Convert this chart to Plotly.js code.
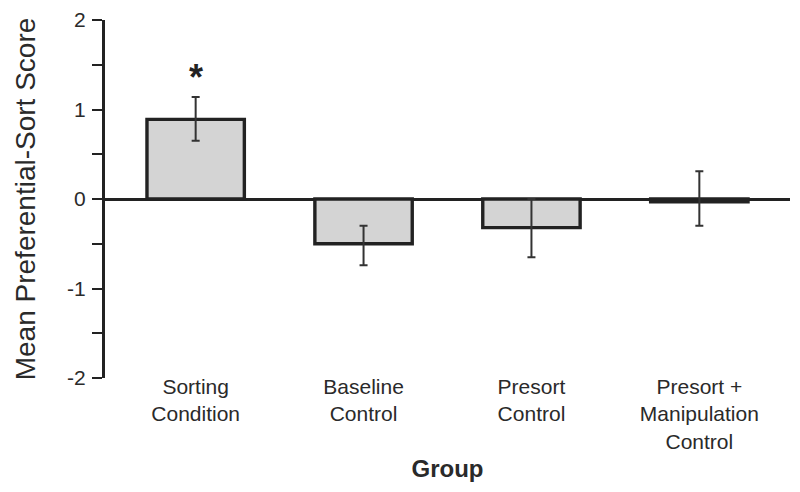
<!DOCTYPE html>
<html>
<head>
<meta charset="utf-8">
<script src="https://cdn.plot.ly/plotly-3.0.1.min.js"></script>
<style>
  body { margin: 0; background: #fff; }
  #plot { width: 800px; height: 492px; }
</style>
</head>
<body>
<div id="plot"></div>
<script>
var groups = ["Sorting<br>Condition", "Baseline<br>Control", "Presort<br>Control", "Presort +<br>Manipulation<br>Control"];
var meanScore = [0.89, -0.50, -0.32, -0.03];
var errUp = [0.25, 0.20, 0.32, 0.34];
var errDown = [0.24, 0.24, 0.33, 0.27];

var yTicks = [-2, -1.5, -1, -0.5, 0, 0.5, 1, 1.5, 2];
var yTickText = ["-2", "", "-1", "", "0", "", "1", "", "2"];

var ink = "#222";

var trace = {
  x: groups,
  y: meanScore,
  type: "bar",
  marker: { color: "#d4d4d4", line: { color: ink, width: 3.4 } },
  error_y: {
    type: "data",
    symmetric: false,
    array: errUp,
    arrayminus: errDown,
    color: "#333",
    thickness: 2,
    width: 4
  },
  hoverinfo: "none"
};

var layout = {
  width: 800,
  height: 492,
  margin: { l: 105, r: 10, t: 20, b: 114 },
  paper_bgcolor: "#fff",
  plot_bgcolor: "#fff",
  showlegend: false,
  bargap: 0.42,
  font: { family: "Liberation Sans, Arial, sans-serif", color: "#2a2a2a" },
  xaxis: {
    range: [-0.54, 3.54],
    showline: false,
    showgrid: false,
    zeroline: false,
    ticks: "",
    tickfont: { size: 21 },
    ticklabelstandoff: -6,
    title: { text: "<b>Group</b>", font: { size: 24 }, standoff: 8 }
  },
  yaxis: {
    range: [-2, 2],
    tickvals: yTicks,
    ticktext: yTickText,
    ticks: "outside",
    ticklen: 10,
    tickwidth: 2,
    tickcolor: ink,
    showline: true,
    linecolor: ink,
    linewidth: 3,
    showgrid: false,
    zeroline: true,
    zerolinecolor: ink,
    zerolinewidth: 3,
    tickfont: { size: 21 },
    ticklabelstandoff: 2,
    title: { text: "Mean Preferential-Sort Score", font: { size: 28 }, standoff: 24 }
  },
  annotations: [{
    x: 0,
    y: 1.36,
    xref: "x",
    yref: "y",
    text: "<b>*</b>",
    showarrow: false,
    font: { size: 36, color: ink },
    yanchor: "middle"
  }]
};

Plotly.newPlot("plot", [trace], layout, { displayModeBar: false, staticPlot: true });
</script>
</body>
</html>
